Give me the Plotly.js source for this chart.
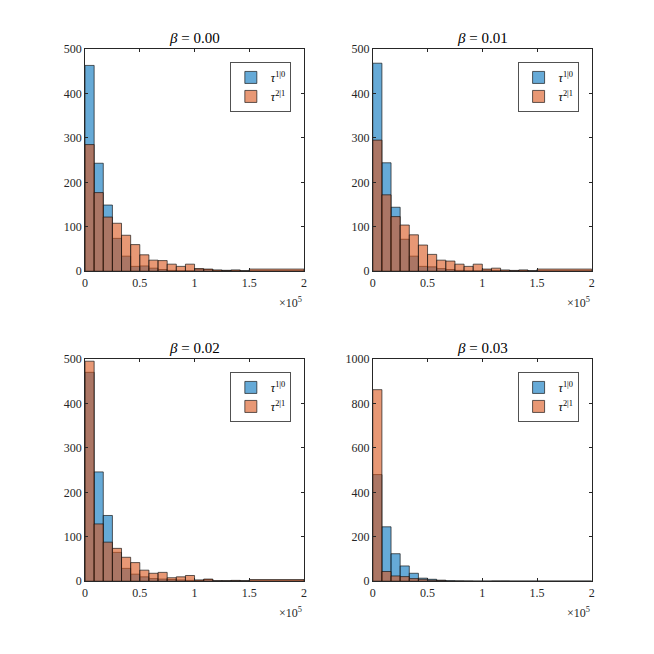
<!DOCTYPE html>
<html>
<head>
<meta charset="utf-8">
<script src="https://cdn.plot.ly/plotly-3.0.1.min.js"></script>
<style>html,body{margin:0;padding:0;background:#fff;}#chart{width:654px;height:654px;}</style>
</head>
<body>
<div id="chart"></div>
<script>
// Bin edges (tau values): 18 bins of width 1.5e5/18, then one wide bin to 2e5
const binEdges = [0, 8333.33, 16666.67, 25000, 33333.33, 41666.67, 50000, 58333.33, 66666.67, 75000,
  83333.33, 91666.67, 100000, 108333.33, 116666.67, 125000, 133333.33, 141666.67, 150000, 200000];

const panelTitles = ["0.00", "0.01", "0.02", "0.03"];
const seriesNames = ["<i>τ</i><sup>1|0</sup>", "<i>τ</i><sup>2|1</sup>"];

// counts per bin
const tau10_b000 = [463, 243, 149, 74, 34, 11, 12, 7, 4, 2, 1, 1, 5, 4, 2, 2, 2, 1, 1];
const tau21_b000 = [285, 177, 122, 108, 81, 60, 37, 25, 24, 16, 11, 16, 6, 5, 3, 2, 3, 1, 5];

const tau10_b001 = [468, 244, 144, 72, 34, 11, 10, 6, 4, 2, 1, 1, 3, 2, 1, 1, 2, 1, 1];
const tau21_b001 = [295, 172, 123, 104, 82, 59, 38, 25, 23, 16, 11, 16, 5, 7, 3, 2, 3, 1, 5];

const tau10_b002 = [470, 246, 148, 65, 29, 16, 10, 6, 5, 4, 3, 2, 2, 4, 1, 1, 1, 1, 1];
const tau21_b002 = [495, 129, 88, 74, 54, 42, 25, 18, 20, 8, 10, 13, 3, 5, 1, 1, 2, 1, 4];

const tau10_b003 = [480, 245, 124, 69, 36, 14, 9, 5, 2, 1, 1, 0, 0, 1, 1, 0, 0, 0, 0];
const tau21_b003 = [862, 44, 24, 21, 12, 9, 5, 3, 1, 1, 0, 0, 0, 0, 0, 0, 0, 0, 0];

const xTickVals = [0, 50000, 100000, 150000, 200000];
const xTickText = ["0", "0.5", "1", "1.5", "2"];
const yTicksSmall = [0, 100, 200, 300, 400, 500];
const yTicksLarge = [0, 200, 400, 600, 800, 1000];

const panels = [
  {b: tau10_b000, o: tau21_b000, ymax: 500, yt: yTicksSmall},
  {b: tau10_b001, o: tau21_b001, ymax: 500, yt: yTicksSmall},
  {b: tau10_b002, o: tau21_b002, ymax: 500, yt: yTicksSmall},
  {b: tau10_b003, o: tau21_b003, ymax: 1000, yt: yTicksLarge}
];

const centers = [], widths = [];
for (let i = 0; i < binEdges.length - 1; i++) {
  centers.push((binEdges[i] + binEdges[i + 1]) / 2);
  widths.push(binEdges[i + 1] - binEdges[i]);
}

const FONT = "Liberation Serif";
const AX = "#262626";
const blue = "rgba(0,114,189,0.6)";
const orange = "rgba(217,83,25,0.6)";
const edge = "rgba(20,20,20,0.85)";

const xDom = [[0.130, 0.465], [0.570, 0.905], [0.130, 0.465], [0.570, 0.905]];
const yDom = [[0.5852, 0.9251], [0.5852, 0.9251], [0.1112, 0.4511], [0.1112, 0.4511]];
const legPos = [[0.445, 0.905], [0.885, 0.905], [0.445, 0.431], [0.885, 0.431]];

const traces = [];
const layout = {
  width: 654, height: 654, autosize: false,
  margin: {l: 0, r: 0, t: 0, b: 0},
  paper_bgcolor: "#fff", plot_bgcolor: "#fff",
  barmode: "overlay",
  font: {family: FONT, size: 12, color: AX},
  annotations: []
};

panels.forEach((p, k) => {
  const sfx = k === 0 ? "" : String(k + 1);
  const xa = "x" + sfx, ya = "y" + sfx;
  const leg = "legend" + sfx;
  traces.push({
    type: "bar", x: centers, y: p.b, width: widths,
    xaxis: xa, yaxis: ya, name: seriesNames[0], legend: leg,
    marker: {color: blue, line: {color: edge, width: 0.8}},
    hoverinfo: "x+y"
  });
  traces.push({
    type: "bar", x: centers, y: p.o, width: widths,
    xaxis: xa, yaxis: ya, name: seriesNames[1], legend: leg,
    marker: {color: orange, line: {color: edge, width: 0.8}},
    hoverinfo: "x+y"
  });
  layout["xaxis" + sfx] = {
    domain: xDom[k], anchor: ya, range: [0, 200000],
    tickvals: xTickVals, ticktext: xTickText,
    ticks: "inside", ticklen: 3, tickcolor: AX, tickwidth: 0.8,
    showline: true, linecolor: AX, linewidth: 0.8, mirror: "ticks",
    showgrid: false, zeroline: false, fixedrange: true,
    tickfont: {family: FONT, size: 12, color: AX}
  };
  layout["yaxis" + sfx] = {
    domain: yDom[k], anchor: xa, range: [0, p.ymax],
    tickvals: p.yt,
    ticks: "inside", ticklen: 3, tickcolor: AX, tickwidth: 0.8,
    showline: true, linecolor: AX, linewidth: 0.8, mirror: "ticks",
    showgrid: false, zeroline: false, fixedrange: true,
    tickfont: {family: FONT, size: 12, color: AX}
  };
  layout[leg] = {
    x: legPos[k][0], y: legPos[k][1], xanchor: "right", yanchor: "top",
    xref: "paper", yref: "paper",
    bgcolor: "#fff", bordercolor: AX, borderwidth: 0.8,
    font: {family: FONT, size: 12, color: "#000"},
    itemwidth: 30, tracegroupgap: 0, traceorder: "normal"
  };
  layout.annotations.push({
    xref: xa + " domain", yref: ya + " domain", x: 0.5, y: 1,
    xanchor: "center", yanchor: "bottom", yshift: 1, showarrow: false,
    text: "<i>β</i> = " + panelTitles[k],
    font: {family: FONT, size: 15, color: "#000"}
  });
  layout.annotations.push({
    xref: xa + " domain", yref: ya + " domain", x: 1, y: 0,
    xanchor: "right", yanchor: "top", yshift: -22, showarrow: false,
    text: "×10<sup>5</sup>",
    font: {family: FONT, size: 12, color: AX}
  });
});

Plotly.newPlot("chart", traces, layout, {displayModeBar: false});
</script>
</body>
</html>
